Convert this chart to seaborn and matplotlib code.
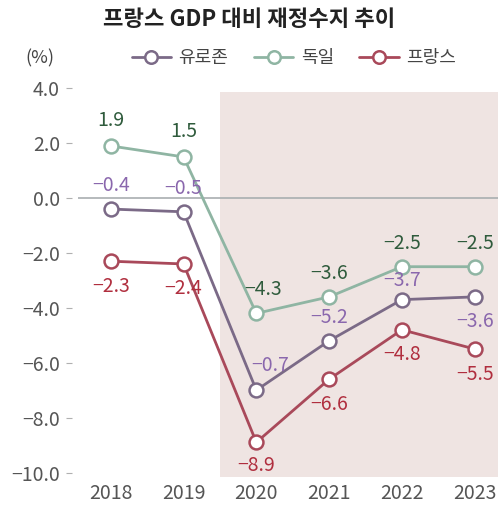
import matplotlib
matplotlib.use("Agg")
import matplotlib.pyplot as plt
from matplotlib.lines import Line2D
import seaborn as sns
import pandas as pd

years = [2018, 2019, 2020, 2021, 2022, 2023]
series_names = ["유로존", "독일", "프랑스"]
eurozone = [-0.4, -0.5, -7.0, -5.2, -3.7, -3.6]
germany = [1.9, 1.5, -4.2, -3.6, -2.5, -2.5]
france = [-2.3, -2.4, -8.9, -6.6, -4.8, -5.5]
eurozone_labels = ["−0.4", "−0.5", "−0.7", "−5.2", "−3.7", "−3.6"]
germany_labels = ["1.9", "1.5", "−4.3", "−3.6", "−2.5", "−2.5"]
france_labels = ["−2.3", "−2.4", "−8.9", "−6.6", "−4.8", "−5.5"]
yticks = [4.0, 2.0, 0.0, -2.0, -4.0, -6.0, -8.0, -10.0]
title = "프랑스 GDP 대비 재정수지 추이"
unit = "(%)"

sns.set_theme(style="white")
plt.rcParams['font.family'] = ['Noto Sans CJK KR', 'DejaVu Sans']

line_colors = {"유로존": "#7b6a87", "독일": "#8fb5a3", "프랑스": "#a9495a"}
text_colors = {"유로존": "#8a67ad", "독일": "#2f5b3c", "프랑스": "#b02e3e"}

df = pd.DataFrame({
    "year": years * 3,
    "value": eurozone + germany + france,
    "series": [s for s in series_names for _ in years],
})

fig = plt.figure(figsize=(4.98, 5.05), dpi=100)
ax = fig.add_axes([78/498, 0.048, 1 - 78/498, 0.836 - 0.048])

ax.axvspan(2019.5, 2023.4, ymin=(-10.15+10.3)/14.5, ymax=(3.85+10.3)/14.5,
           color="#efe4e2", zorder=0, lw=0)
ax.axhline(0, color="#a9aeb0", lw=1.2, zorder=1)

sns.lineplot(data=df, x="year", y="value", hue="series", hue_order=series_names,
             palette=line_colors, marker="o", markersize=10, markerfacecolor="white",
             markeredgewidth=1.8, linewidth=2.0, ax=ax, legend=False, zorder=3)
for line in ax.lines[1:]:
    line.set_markeredgecolor(line.get_color())

offsets = {
    "유로존": [(0, 17), (0, 17), (10, 18), (0, 17), (0, 14), (0, -18)],
    "독일": [(0, 18), (0, 18), (5, 17), (0, 17), (0, 17), (0, 17)],
    "프랑스": [(0, -18), (0, -18), (0, -17), (0, -18), (0, -18), (0, -18)],
}
vals = {"유로존": eurozone, "독일": germany, "프랑스": france}
labs = {"유로존": eurozone_labels, "독일": germany_labels, "프랑스": france_labels}
for s in series_names:
    for x, v, t, off in zip(years, vals[s], labs[s], offsets[s]):
        ax.annotate(t, (x, v), xytext=off, textcoords="offset points",
                    ha="center", va="center", fontsize=14, color=text_colors[s],
                    fontweight="medium" if s == "독일" else "normal", zorder=5)

ax.set_xlim(2017.55, 2023.32)
ax.set_ylim(-10.3, 4.2)
ax.set_xticks(years)
ax.set_xticklabels([str(y) for y in years])
ax.set_yticks(yticks)
ax.set_yticklabels([f"{y:.1f}".replace("-", "−") for y in yticks])
for sp in ["top", "right", "bottom"]:
    ax.spines[sp].set_visible(False)
ax.spines["left"].set_visible(False)
ax.spines["left"].set_position(("outward", 4))
ax.tick_params(axis="y", left=True, length=4, width=0.8, color="#b0b0b0",
               pad=5, labelsize=14, labelcolor="#555555")
ax.tick_params(axis="x", bottom=False, pad=-4.5, labelsize=14, labelcolor="#555555")
ax.set_xlabel("")
ax.set_ylabel("")
ax.grid(False)

fig.text(0.5, 0.962, title, ha="center", va="center", fontsize=16,
         fontweight="bold", color="#222222")
fig.text(0.05, 0.885, unit, ha="left", va="center", fontsize=13, color="#444444")

handles = [Line2D([0], [0], color=line_colors[s], lw=2, marker="o", markersize=9,
                  markerfacecolor="white", markeredgecolor=line_colors[s],
                  markeredgewidth=1.8) for s in series_names]
fig.legend(handles, series_names, loc="center", bbox_to_anchor=(0.59, 0.885),
           ncol=3, frameon=False, fontsize=13, handlelength=2.2, handletextpad=0.4,
           columnspacing=1.4, labelcolor="#444444")

fig.savefig("out.png", dpi=100)
